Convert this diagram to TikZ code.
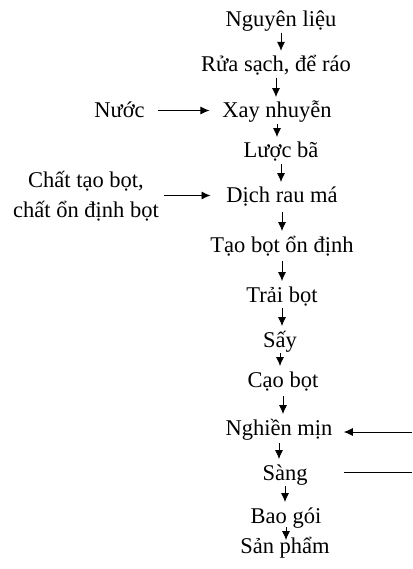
\documentclass[tikz,border=0pt]{standalone}
\usepackage{fontspec}
\setmainfont{Liberation Serif}
\usepackage{tikz}
\usetikzlibrary{arrows.meta}

\tikzset{
  stage/.style={inner sep=0.5pt, text height=20pt, text depth=5pt},
  feed/.style={inner sep=0.5pt, align=center},
}

\begin{document}
\begin{tikzpicture}[x=1pt, y=-1pt, line width=0.8pt,
  >={Latex[length=9pt,width=8pt]},
  font=\fontsize{22.5}{30}\selectfont]
\useasboundingbox (0,0) rectangle (412,569);
\node [stage] (nl) at (281,19.2) {Nguyên liệu};
\node [stage] (rs) at (276,64.2) {Rửa sạch, để ráo};
\node [stage] (xn) at (277,110.5) {Xay nhuyễn};
\node [stage] (lb) at (281,150.5) {Lược bã};
\node [stage] (dr) at (282,195.5) {Dịch rau má};
\node [stage] (tb) at (282,244.5) {Tạo bọt ổn định};
\node [stage] (trai) at (282,294.5) {Trải bọt};
\node [stage] (say) at (280,339.5) {Sấy};
\node [stage] (cao) at (283,379.5) {Cạo bọt};
\node [stage] (ng) at (279,427.5) {Nghiền mịn};
\node [stage] (sang) at (285,472.5) {Sàng};
\node [stage] (bao) at (286,515.5) {Bao gói};
\node [stage] (sp) at (285,545.5) {Sản phẩm};
% side inputs
\node [stage] (nuoc) at (119.5,110.5) {Nước};
\node [feed] (chat) at (86,196) {Chất tạo bọt,\\chất ổn định bọt};
\coordinate (rin) at (412,432);
\coordinate (rout) at (412,472);
% main line
\draw [->] (nl) -- (nl |- rs.north);
\draw [->] (rs) -- (rs |- xn.north);
\draw [->] (xn) -- (xn |- lb.north);
\draw [->] (lb) -- (lb |- dr.north);
\draw [->, shorten <=3pt] (dr) -- (dr |- tb.north);
\draw [->, shorten <=3pt] (tb) -- (tb |- trai.north);
\draw [->] (trai) -- (trai |- say.north);
\draw [->] (say) -- (say |- cao.north);
\draw [->, shorten <=3pt] (cao) -- (cao |- ng.north);
\draw [->, shorten <=2pt] (ng) -- (ng |- sang.north);
\draw [->] (sang) -- (sang |- bao.north);
\draw [->, shorten <=-2pt, shorten >=-8pt] (bao) -- (bao |- sp.north);
% inputs and outputs
\draw [->, shorten <=12pt, shorten >=12pt] (nuoc) -- (xn);
\draw [->, shorten <=4pt, shorten >=15pt] (chat.east |- dr) -- (dr);
\draw [->, shorten >=10.5pt] (rin) -- (rin -| ng.east);
\draw [shorten >=10.5pt] (rout) -- (rout -| ng.east);
\end{tikzpicture}
\end{document}
